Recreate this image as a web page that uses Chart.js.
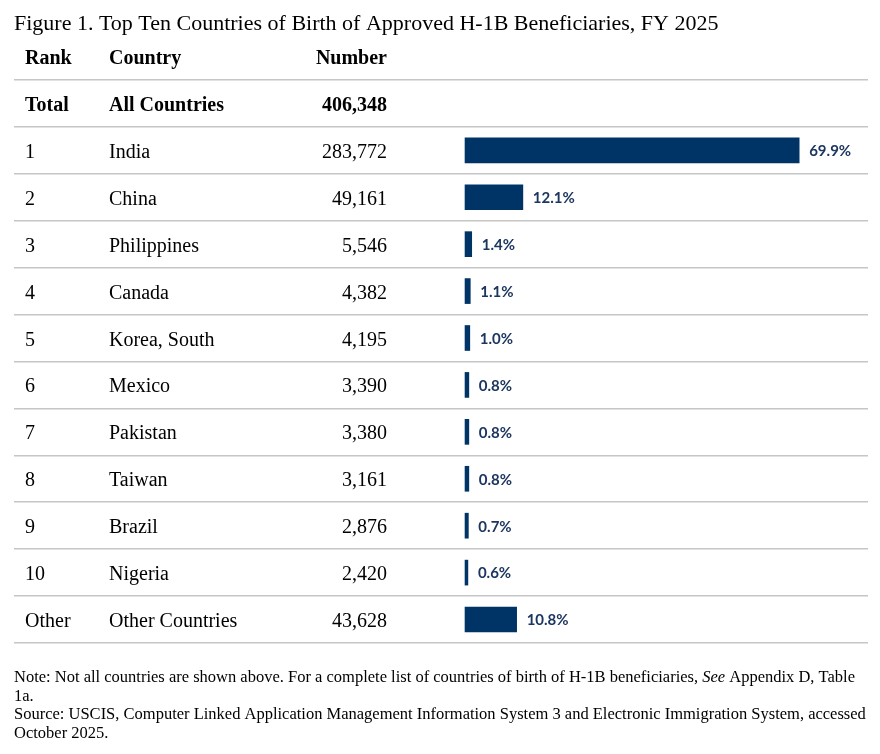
<!DOCTYPE html>
<html>
<head>
<meta charset="utf-8">
<script src="https://cdn.jsdelivr.net/npm/chart.js@4.4.1/dist/chart.umd.min.js"></script>
<style>
  html, body { margin: 0; padding: 0; background: #fff; }
  #wrap { position: relative; width: 880px; height: 754px; }
</style>
</head>
<body>
<div id="wrap"><canvas id="grafico" width="880" height="754"></canvas></div>
<script>
// Dati della figura
const titolo = 'Figure 1. Top Ten Countries of Birth of Approved H-1B Beneficiaries, FY 2025';
const intestazioni = ['Rank', 'Country', 'Number'];
const totaleRiga = ['Total', 'All Countries', 406348];
const ranghi = ['1', '2', '3', '4', '5', '6', '7', '8', '9', '10', 'Other'];
const paesi = ['India', 'China', 'Philippines', 'Canada', 'Korea, South', 'Mexico',
               'Pakistan', 'Taiwan', 'Brazil', 'Nigeria', 'Other Countries'];
const numeri = [283772, 49161, 5546, 4382, 4195, 3390, 3380, 3161, 2876, 2420, 43628];
const quote = [69.9, 12.1, 1.4, 1.1, 1.0, 0.8, 0.8, 0.8, 0.7, 0.6, 10.8];
const note = [
  [{ t: 'Note: Not all countries are shown above. For a complete list of countries of birth of H-1B beneficiaries, ' },
   { t: 'See', i: true }, { t: ' Appendix D, Table' }],
  [{ t: '1a.' }],
  [{ t: 'Source: USCIS, Computer Linked Application Management Information System 3 and Electronic Immigration System, accessed' }],
  [{ t: 'October 2025.' }]
];

const fmt = n => n.toLocaleString('en-US');
const SERIF = '"Liberation Serif", "Times New Roman", serif';

// righe dell'asse: intestazione, totale, poi i paesi
const etichette = ['Header', 'Total'].concat(ranghi);
const valoriBarre = [null, null].concat(quote);

// Plugin che scrive le colonne di testo e le percentuali
const testoTabella = {
    id: 'testoTabella',
    afterDatasetsDraw(chart) {
        const ctx = chart.ctx;
        const y = chart.scales.y;
        const x = chart.scales.x;
        ctx.save();
        ctx.fillStyle = '#000';
        ctx.textBaseline = 'alphabetic';

        // titolo
        ctx.font = '22px ' + SERIF;
        ctx.textAlign = 'left';
        ctx.fillText(titolo, 14, 30);

        function riga(i, col, bold) {
            const yy = y.getPixelForValue(i) + 7.5;
            ctx.font = (bold ? 'bold ' : '') + '20px ' + SERIF;
            ctx.textAlign = 'left';
            ctx.fillText(col[0], 25, yy);
            ctx.fillText(col[1], 109, yy);
            ctx.textAlign = 'right';
            ctx.fillText(typeof col[2] === 'number' ? fmt(col[2]) : col[2], 387, yy);
        }
        riga(0, intestazioni, true);
        riga(1, [totaleRiga[0], totaleRiga[1], totaleRiga[2]], true);
        ranghi.forEach((r, k) => riga(k + 2, [r, paesi[k], numeri[k]], false));

        // percentuali accanto alle barre
        const meta = chart.getDatasetMeta(0);
        ctx.font = 'bold 15px Lato, "Open Sans", sans-serif';
        ctx.fillStyle = '#1c3660';
        ctx.textAlign = 'left';
        ctx.textBaseline = 'middle';
        quote.forEach((q, k) => {
            const bar = meta.data[k + 2];
            ctx.fillText(q.toFixed(1) + '%', x.getPixelForValue(q) + 10, bar.y + 1);
        });

        // note in fondo
        ctx.fillStyle = '#000';
        ctx.textBaseline = 'alphabetic';
        note.forEach((parti, k) => {
            let xx = 14;
            const yy = 682 + k * 18.5;
            parti.forEach(p => {
                ctx.font = (p.i ? 'italic ' : '') + '16.5px ' + SERIF;
                ctx.fillText(p.t, xx, yy);
                xx += ctx.measureText(p.t).width;
            });
        });
        ctx.restore();
    }
};

new Chart(document.getElementById('grafico'), {
    type: 'bar',
    data: {
        labels: etichette,
        datasets: [{
            data: valoriBarre,
            backgroundColor: '#003466',
            borderWidth: 0,
            barThickness: 25
        }]
    },
    options: {
        indexAxis: 'y',
        responsive: false,
        animation: false,
        layout: { padding: { top: 33, bottom: 111, left: 14, right: 12 } },
        plugins: { legend: { display: false }, tooltip: { enabled: false } },
        scales: {
            x: { display: false, min: -94.35, max: 84.3 },
            y: {
                offset: true,
                ticks: { display: false },
                border: { display: false },
                grid: {
                    offset: true,
                    drawTicks: false,
                    lineWidth: 1.5,
                    color: c => (c.index === 0 ? 'rgba(0,0,0,0)' : '#c6c6c6')
                }
            }
        }
    },
    plugins: [testoTabella]
});
</script>
</body>
</html>
